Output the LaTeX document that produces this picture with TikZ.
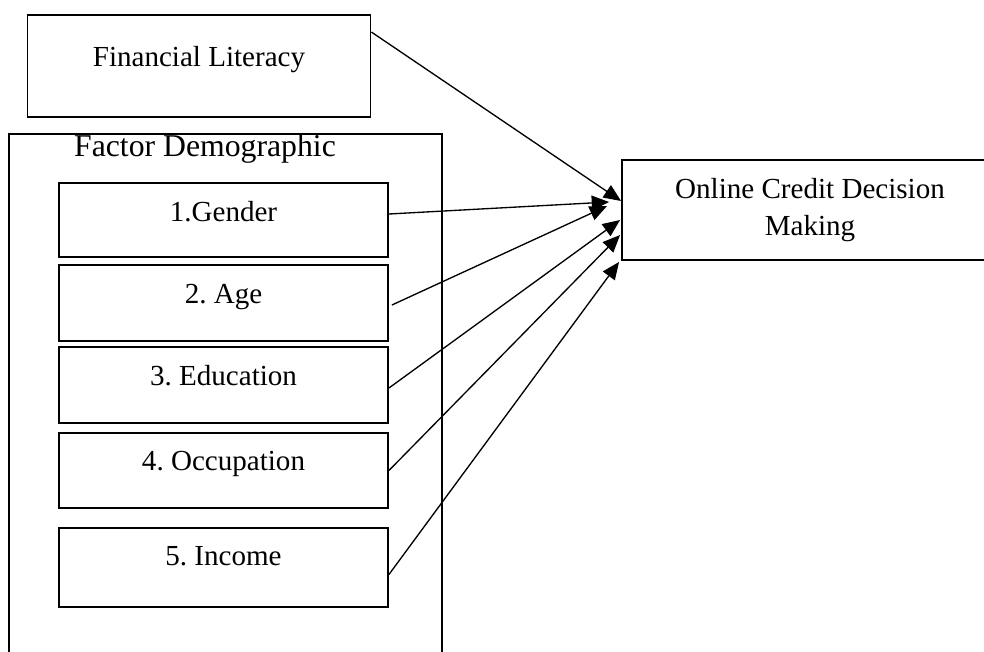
\documentclass[tikz,border=0pt]{standalone}
\usepackage{fontspec}
\setmainfont{Liberation Serif}
\usetikzlibrary{arrows.meta}
\frenchspacing
\begin{document}
\begin{tikzpicture}[x=0.75pt,y=-0.75pt,
  box/.style={draw,line width=1.4pt,rectangle,inner sep=0pt,minimum width=#1},
  item/.style={box=246.75pt},
  lbl/.style={anchor=base,inner sep=0pt,font=\fontsize{21.8}{27.75}\selectfont},
  link/.style={line width=1pt,-{Triangle[length=13pt,width=11pt]}}]
\useasboundingbox (0,0) rectangle (984,652);

% outer demographic frame
\node[draw,line width=0.9pt,rectangle,inner sep=0pt,minimum width=324.75pt,minimum height=390pt] (demo) at (225.5,394) {};
\node[anchor=base,inner sep=0pt,font=\fontsize{23.8}{28}\selectfont] (demotxt) at (205,156.7) {Factor Demographic};

% financial literacy
\node[box=257.25pt,minimum height=76.5pt] (fl) at (199,66) {};
\node[lbl] (fltxt) at (199,66.5) {Financial Literacy};

% demographic items
\node[item,minimum height=55.5pt] (gender) at (223.5,220) {};
\node[lbl] (gendertxt) at (223.5,221.7) {1.Gender};
\node[item,minimum height=57pt] (age) at (223.5,303) {};
\node[lbl] (agetxt) at (223.5,303.3) {2. Age};
\node[item,minimum height=57pt] (edu) at (223.5,385) {};
\node[lbl] (edutxt) at (223.5,385) {3. Education};
\node[item,minimum height=56.25pt] (occ) at (223.5,470.5) {};
\node[lbl] (occtxt) at (223.5,470.7) {4. Occupation};
\node[item,minimum height=59.25pt] (inc) at (223.5,567.5) {};
\node[lbl] (inctxt) at (223.5,565.7) {5. Income};

% outcome
\node[box=282pt,minimum height=75pt] (ocd) at (810,210) {};
\node[lbl] (ocdtxt1) at (810,198.3) {Online Credit Decision};
\node[lbl] (ocdtxt2) at (810,236) {Making};

% arrows
\draw[link] ([yshift=-13.5pt]fl.north east) -- ([yshift=6.75pt]ocd.west);
\draw[link] ([yshift=4.5pt]gender.east) -- ([xshift=-9pt,yshift=6pt]ocd.west);
\draw[link] ([xshift=2.25pt,yshift=-1.5pt]age.east) -- ([xshift=-10.5pt,yshift=3pt]ocd.west);
\draw[link] ([yshift=-2.25pt]edu.east) -- ([xshift=-0.75pt,yshift=-7.5pt]ocd.west);
\draw[link] (occ.east) -- ([xshift=-0.75pt,yshift=-18.75pt]ocd.west);
\draw[link] ([yshift=-5.25pt]inc.east) -- ([xshift=-1.5pt,yshift=-0.75pt]ocd.south west);
\end{tikzpicture}
\end{document}
